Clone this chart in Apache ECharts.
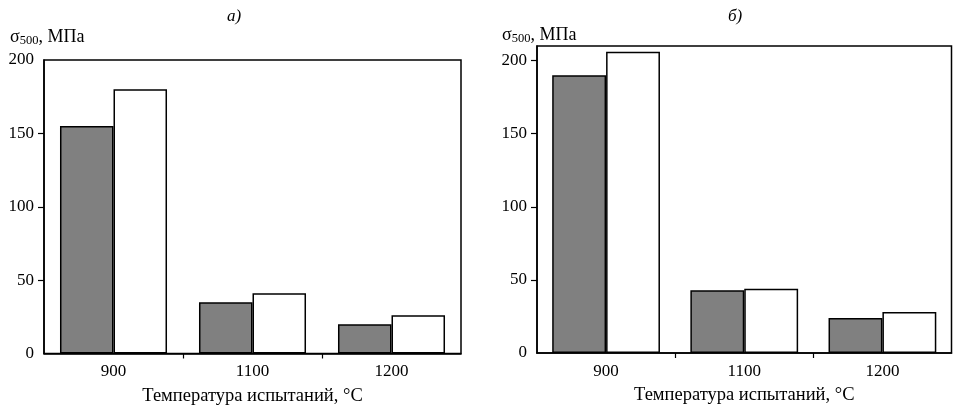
<!DOCTYPE html>
<html><head><meta charset="utf-8">
<script src="https://cdn.jsdelivr.net/npm/echarts@6/dist/echarts.min.js"></script>
<style>html,body{margin:0;padding:0;background:#fff}#c{width:953px;height:406px}</style>
</head><body><div id="c"></div>
<script>
const categories = ['900', '1100', '1200'];
const seriesA_gray = [155, 35, 20];
const seriesA_white = [180, 41, 26];
const seriesB_gray = [190, 43, 24];
const seriesB_white = [206, 44, 28];
const yLabelsA = [0, 50, 100, 150, 200];
const yTickMarksA = [50, 100, 150];
const yLabelsB = [0, 50, 100, 150, 200];
const yTickMarksB = [50, 100, 150, 200];
const xName = 'Температура испытаний, °C';

const FONT = 'Liberation Serif';
const chart = echarts.init(document.getElementById('c'), null, {renderer: 'canvas'});

function xAxis(gi) {
  return {
    type: 'category', gridIndex: gi, data: categories, boundaryGap: true,
    axisLine: {show: true, lineStyle: {color: '#000', width: 1.5}},
    axisTick: {show: false},
    axisLabel: {color: '#000', fontFamily: FONT, fontSize: 17, margin: 10, interval: 0},
    name: xName, nameLocation: 'middle', nameGap: 33,
    nameTextStyle: {color: '#000', fontFamily: FONT, fontSize: 18.5},
    splitLine: {show: false}
  };
}
// helper axis that only draws the separators between categories
function xSepAxis(gi) {
  return {
    type: 'category', gridIndex: gi, data: ['', '', '', ''], boundaryGap: false, position: 'bottom',
    axisLine: {show: false},
    axisTick: {show: true, length: 5, lineStyle: {color: '#000', width: 1.2}, interval: (i) => i === 1 || i === 2},
    axisLabel: {show: false},
    splitLine: {show: false}
  };
}
function yAxis(gi, max, labels, marks) {
  return {
    type: 'value', gridIndex: gi, min: 0, max: max, interval: 50,
    axisLine: {show: true, lineStyle: {color: '#000', width: 1.5}},
    axisTick: {show: true, length: 6, lineStyle: {color: '#000', width: 1.2}, customValues: marks},
    axisLabel: {color: '#000', fontFamily: FONT, fontSize: 17, margin: 10, customValues: labels},
    splitLine: {show: false}
  };
}
const barItem = (c) => ({color: c, borderColor: '#000', borderWidth: 1.5});

const sigma = (x, y) => ({
  left: x, top: y,
  text: '{s|σ}{sub|500}{s|, МПа}',
  textStyle: {fontWeight: 'normal', rich: {
    s: {fontFamily: FONT, fontSize: 18, fontWeight: 'normal', color: '#000'},
    sub: {fontFamily: FONT, fontSize: 12.5, fontWeight: 'normal', color: '#000', verticalAlign: 'bottom', padding: [7, 0, 0, 0]}
  }},
  padding: 0
});
const label = (t, x) => ({text: t, left: x, top: 8, padding: 0,
  textStyle: {fontFamily: FONT, fontStyle: 'italic', fontWeight: 'normal', fontSize: 17, color: '#000'}});

chart.setOption({
  animation: false,
  backgroundColor: '#fff',
  title: [
    label('а)', 227),
    label('б)', 728),
    sigma(10, 27),
    sigma(502, 25)
  ],
  grid: [
    {left: 44, right: 492, top: 60, bottom: 52.5, outerBoundsMode: 'none', containLabel: false, show: true, borderColor: '#000', borderWidth: 1.5, backgroundColor: 'transparent'},
    {left: 537, right: 1.5, top: 46, bottom: 53, outerBoundsMode: 'none', containLabel: false, show: true, borderColor: '#000', borderWidth: 1.5, backgroundColor: 'transparent'}
  ],
  xAxis: [xAxis(0), xAxis(1), xSepAxis(0), xSepAxis(1)],
  yAxis: [yAxis(0, 200, yLabelsA, yTickMarksA), yAxis(1, 210, yLabelsB, yTickMarksB)],
  series: [
    {type: 'bar', xAxisIndex: 0, yAxisIndex: 0, data: seriesA_gray, itemStyle: barItem('#808080'), barGap: '0%', barCategoryGap: '23%'},
    {type: 'bar', xAxisIndex: 0, yAxisIndex: 0, data: seriesA_white, itemStyle: barItem('#ffffff'), barGap: '0%', barCategoryGap: '23%'},
    {type: 'bar', xAxisIndex: 1, yAxisIndex: 1, data: seriesB_gray, itemStyle: barItem('#808080'), barGap: '0%', barCategoryGap: '22%'},
    {type: 'bar', xAxisIndex: 1, yAxisIndex: 1, data: seriesB_white, itemStyle: barItem('#ffffff'), barGap: '0%', barCategoryGap: '22%'}
  ]
});
</script>
</body></html>
